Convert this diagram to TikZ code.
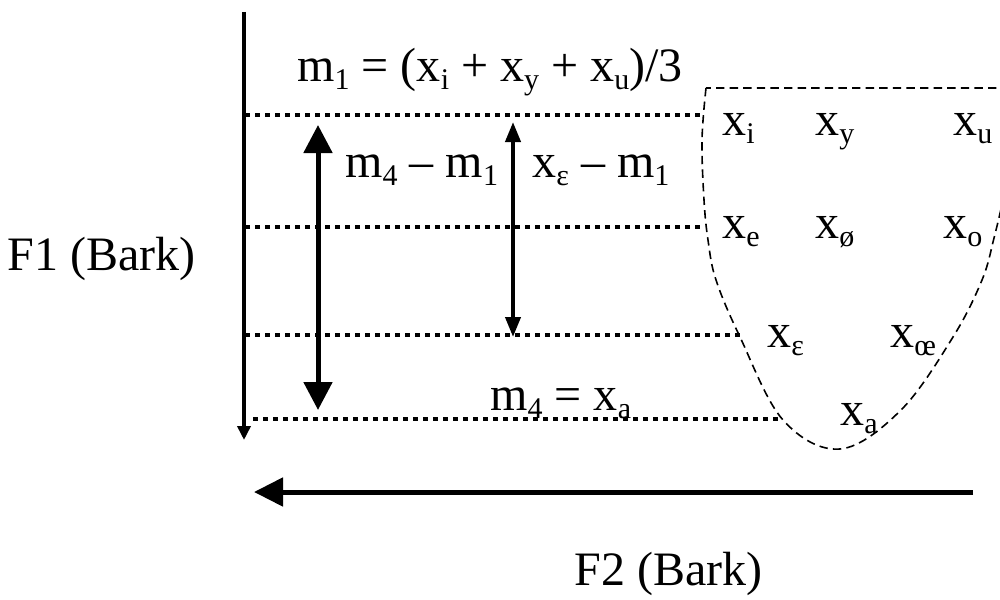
\documentclass[tikz,border=0pt]{standalone}
\usepackage{fontspec}
\setmainfont{Liberation Serif}
\usetikzlibrary{arrows.meta}
\newcommand{\sbs}[1]{\raisebox{-4pt}{\fontsize{15}{15}\selectfont #1}}
\begin{document}
\begin{tikzpicture}[x=0.5pt,y=-0.5pt,
  lbl/.style={anchor=base west,inner sep=0pt,font=\fontsize{24}{28}\selectfont},
  guide/.style={line width=2.4pt,dash pattern=on 2.3pt off 2.7pt},
  axis/.style={line width=2pt},
  region/.style={line width=0.8pt,dash pattern=on 4.2pt off 2.6pt}]
\useasboundingbox (0,0) rectangle (1000,599);

% axes
\coordinate (vtop) at (244,12);
\coordinate (vbot) at (244,440);
\draw[axis,-{Triangle[length=7pt,width=6.5pt]}] (vtop) -- (vbot);
\coordinate (hright) at (973,492);
\coordinate (hleft) at (254,492);
\draw[line width=2.5pt,-{Triangle[length=14.5pt,width=14pt]}] (hright) -- (hleft);

% dotted guide lines
\coordinate (g1a) at (245,115); \coordinate (g1b) at (703,115);
\coordinate (g2a) at (245,227); \coordinate (g2b) at (700,227);
\coordinate (g3a) at (245,335); \coordinate (g3b) at (740,335);
\coordinate (g4a) at (253,419); \coordinate (g4b) at (780,419);
\draw[guide] (g1a) -- (g1b);
\draw[guide] (g2a) -- (g2b);
\draw[guide] (g3a) -- (g3b);
\draw[guide] (g4a) -- (g4b);

% double arrows
\coordinate (d1t) at (318,125); \coordinate (d1b) at (318,410);
\draw[line width=2.5pt,{Triangle[length=14pt,width=14pt]}-{Triangle[length=14pt,width=14pt]}] (d1t) -- (d1b);
\coordinate (d2t) at (513,122); \coordinate (d2b) at (513,337);
\draw[line width=2pt,{Triangle[length=10pt,width=7.5pt]}-{Triangle[length=10pt,width=7.5pt]}] (d2t) -- (d2b);

% dashed vowel region
\begin{scope}
\clip (0,0) rectangle (1000,599);
\draw[region] (1010,88) -- (706,88)
  plot[smooth,tension=0.6] coordinates {(706,88) (702,140) (704,200) (708,240) (716,280) (740,337) (783,420) (840,449) (901,410) (953,337) (982,280) (994,238) (1004,195) (1010,160)};
\end{scope}

% labels
\node[lbl] (eqm1) at (297,82) {m\sbs{1} = (x\sbs{i} + x\sbs{y} + x\sbs{u})/3};
\node[lbl] (d1lbl) at (345,177) {m\sbs{4} – m\sbs{1}};
\node[lbl] (d2lbl) at (532,177) {x\sbs{ε} – m\sbs{1}};
\node[lbl] (eqm4) at (490,410) {m\sbs{4} = x\sbs{a}};
\node[lbl,anchor=base east] (f1) at (196,270) {F1 (Bark)};
\node[lbl] (f2) at (574,585) {F2 (Bark)};

% vowels
\node[lbl] (vi) at (722,135) {x\sbs{i}};
\node[lbl] (vy) at (815,135) {x\sbs{y}};
\node[lbl] (vu) at (953,135) {x\sbs{u}};
\node[lbl] (ve) at (722,238) {x\sbs{e}};
\node[lbl] (voe) at (815,238) {x\sbs{ø}};
\node[lbl] (vo) at (943,238) {x\sbs{o}};
\node[lbl] (veps) at (767,347) {x\sbs{ε}};
\node[lbl] (voel) at (890,347) {x\sbs{œ}};
\node[lbl] (va) at (840,425) {x\sbs{a}};
\end{tikzpicture}
\end{document}
